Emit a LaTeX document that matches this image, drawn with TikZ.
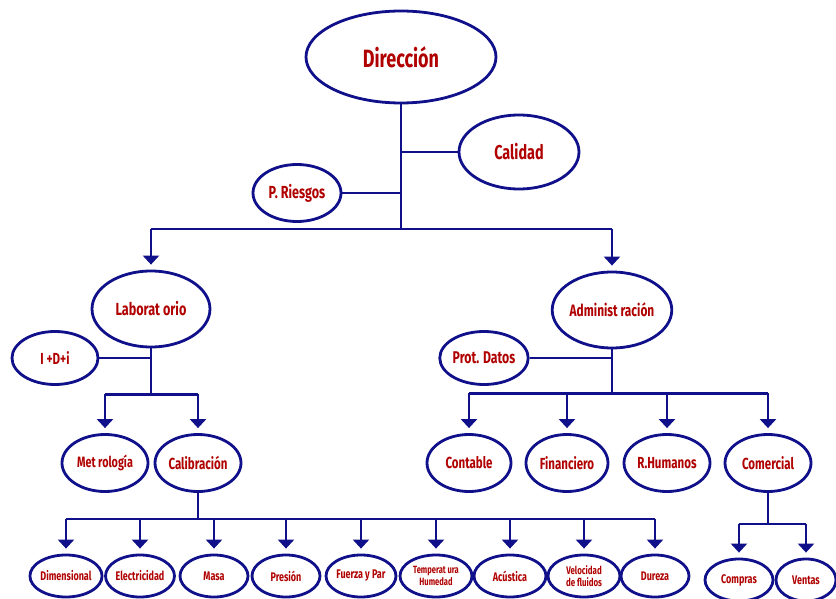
\documentclass[tikz,border=0pt]{standalone}
\usepackage{fontspec}
\setmainfont{Fira Sans}[FakeStretch=0.72]
\usepackage{tikz}
\usetikzlibrary{positioning, calc, shapes.geometric, arrows.meta}
\definecolor{OrgNavy}{HTML}{10108A}
\definecolor{OrgRed}{HTML}{B00000}
\tikzset{
  orgbox/.style={ellipse, draw=OrgNavy, line width=2.8pt, fill=white, text=OrgRed,
                 inner sep=0pt, align=center},
  orglink/.style={draw=OrgNavy, line width=2.4pt},
  orgarrow/.style={orglink, -{Triangle[width=16pt,length=9pt]}, shorten >=5pt},
}
\newcommand{\fsz}[1]{\fontsize{#1}{#1}\selectfont\bfseries}

\begin{document}
\begin{tikzpicture}[x=1pt, y=-1pt]
      \useasboundingbox (0,0) rectangle (836,599);
      %% Top level
      \node[orgbox, minimum width=190, minimum height=92, font=\fsz{25}] (dir) at (401,57) {Dirección};
      \node[orgbox, minimum width=120, minimum height=74, font=\fsz{20}] (cal) at (519,152) {Calidad};
      \node[orgbox, minimum width=88, minimum height=57, font=\fsz{17.5}] (rie) at (297,193) {P. Riesgos};
      %% Second level
      \node[orgbox, minimum width=118, minimum height=76, font=\fsz{17.5}] (lab) at (151,309) {Laborat orio};
      \node[orgbox, minimum width=118, minimum height=76, font=\fsz{16.5}] (adm) at (612,310) {Administ ración};
      \node[orgbox, minimum width=86, minimum height=53, font=\fsz{16}] (idi) at (55,358) {I +D+i};
      \node[orgbox, minimum width=86, minimum height=53, font=\fsz{17}] (pro) at (484,358) {Prot. Datos};
      %% Third level
      \node[orgbox, minimum width=86, minimum height=57, font=\fsz{15}] (met) at (105,463) {Met rología};
      \node[orgbox, minimum width=86, minimum height=57, font=\fsz{16}] (cab) at (198,463) {Calibración};
      \node[orgbox, minimum width=84, minimum height=57, font=\fsz{16}] (con) at (469,463) {Contable};
      \node[orgbox, minimum width=82, minimum height=57, font=\fsz{16}] (fin) at (567,463) {Financiero};
      \node[orgbox, minimum width=86, minimum height=57, font=\fsz{16}] (rhu) at (667,463) {R.Humanos};
      \node[orgbox, minimum width=86, minimum height=57, font=\fsz{16}] (com) at (768,463) {Comercial};
      %% Calibration areas
      \node[orgbox, minimum width=68, minimum height=42, font=\fsz{12.5}] (dim) at (66,576) {Dimensional};
      \node[orgbox, minimum width=68, minimum height=42, font=\fsz{12.5}] (ele) at (140,576) {Electricidad};
      \node[orgbox, minimum width=68, minimum height=42, font=\fsz{12.5}] (mas) at (214,576) {Masa};
      \node[orgbox, minimum width=68, minimum height=42, font=\fsz{12.5}] (pre) at (286,576) {Presión};
      \node[orgbox, minimum width=70, minimum height=42, font=\fsz{12.5}] (fue) at (361,576) {Fuerza y Par};
      \node[orgbox, minimum width=72, minimum height=42, font=\fsz{10.5}] (tem) at (436,576) {Temperat ura\\[1pt] Humedad};
      \node[orgbox, minimum width=72, minimum height=42, font=\fsz{12.5}] (acu) at (510,576) {Acústica};
      \node[orgbox, minimum width=72, minimum height=42, font=\fsz{11}] (vel) at (584,576) {Velocidad\\[1pt] de fluidos};
      \node[orgbox, minimum width=68, minimum height=42, font=\fsz{12.5}] (dur) at (655,576) {Dureza};
      %% Commercial areas
      \node[orgbox, minimum width=68, minimum height=42, font=\fsz{12.5}] (cpr) at (739,580) {Compras};
      \node[orgbox, minimum width=60, minimum height=42, font=\fsz{12.5}] (ven) at (806,580) {Ventas};
      %% Links from Direccion
      \coordinate (dirbar) at (401,229);
      \draw[orglink] (dir.south) -- (dirbar);
      \draw[orglink] (cal.west) -- (cal.west -| dir.south);
      \draw[orglink] (rie.east) -- (rie.east -| dir.south);
      \draw[orglink] (lab.north |- dirbar) -- (adm.north |- dirbar);
      \draw[orgarrow] (lab.north |- dirbar) -- (lab.north);
      \draw[orgarrow] (adm.north |- dirbar) -- (adm.north);
      %% Links from Laboratorio
      \path (lab.south) ++(0,46) coordinate (labbar);
      \draw[orglink] (lab.south) -- (labbar);
      \draw[orglink] (idi.east) -- (idi.east -| lab.south);
      \draw[orglink] (met.north |- labbar) -- (cab.north |- labbar);
      \draw[orgarrow] (met.north |- labbar) -- (met.north);
      \draw[orgarrow] (cab.north |- labbar) -- (cab.north);
      %% Links from Administracion
      \path (adm.south) ++(0,44) coordinate (admbar);
      \draw[orglink] (adm.south) -- (admbar);
      \draw[orglink] (pro.east) -- (pro.east -| adm.south);
      \draw[orglink] (con.north |- admbar) -- (com.north |- admbar);
      \foreach \n in {con, fin, rhu, com}
        \draw[orgarrow] (\n.north |- admbar) -- (\n.north);
      %% Links from Calibracion
      \path (cab.south) ++(0,26) coordinate (cabbar);
      \draw[orglink] (cab.south) -- (cabbar);
      \draw[orglink] (dim.north |- cabbar) -- (dur.north |- cabbar);
      \foreach \n in {dim, ele, mas, pre, fue, tem, acu, vel, dur}
        \draw[orgarrow] (\n.north |- cabbar) -- (\n.north);
      %% Links from Comercial
      \path (com.south) ++(0,31) coordinate (combar);
      \draw[orglink] (com.south) -- (combar);
      \draw[orglink] (cpr.north |- combar) -- (ven.north |- combar);
      \draw[orgarrow] (cpr.north |- combar) -- (cpr.north);
      \draw[orgarrow] (ven.north |- combar) -- (ven.north);
    \end{tikzpicture}
\end{document}
